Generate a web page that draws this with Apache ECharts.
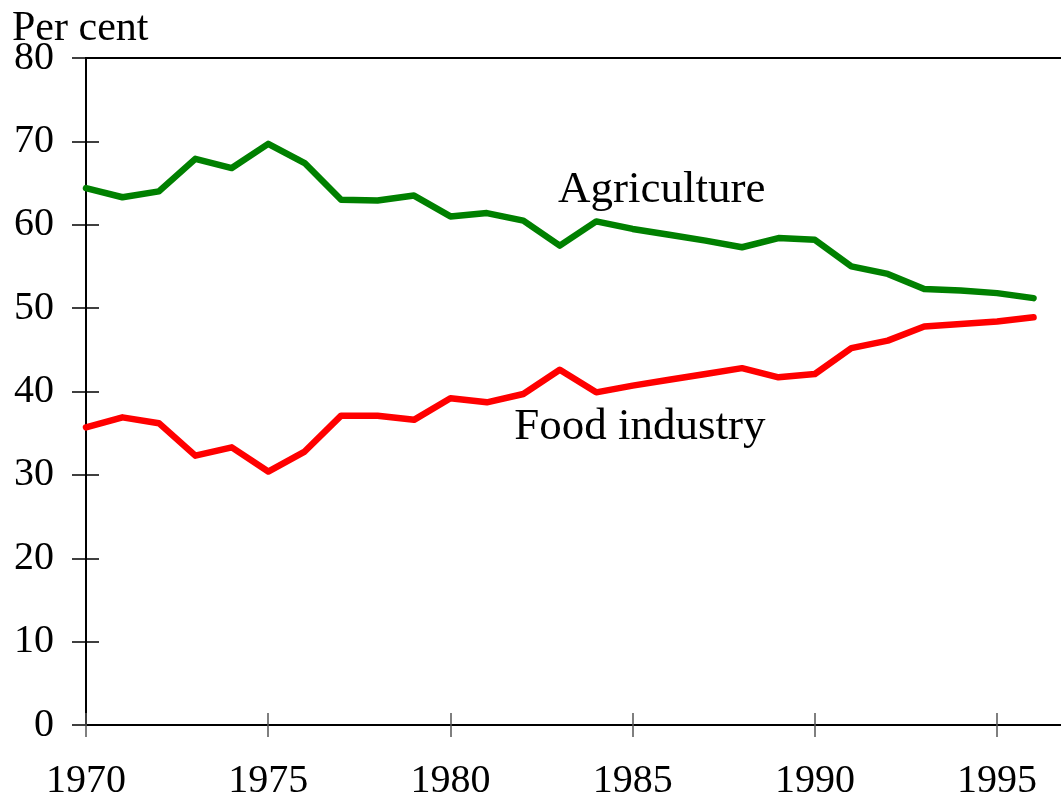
<!DOCTYPE html>
<html>
<head>
<meta charset="utf-8">
<script src="https://cdn.jsdelivr.net/npm/echarts@6/dist/echarts.min.js"></script>
<style>
html,body{margin:0;padding:0;background:#fff;}
#chart{width:1061px;height:799px;}
</style>
</head>
<body>
<div id="chart"></div>
<script>
const years = [1970,1971,1972,1973,1974,1975,1976,1977,1978,1979,1980,1981,1982,1983,1984,1985,1986,1987,1988,1989,1990,1991,1992,1993,1994,1995,1996];
const agriculture = [64.4,63.3,64.0,67.9,66.8,69.7,67.4,63.0,62.9,63.5,61.0,61.4,60.5,57.5,60.4,59.5,58.8,58.1,57.3,58.4,58.2,55.0,54.1,52.3,52.1,51.8,51.2];
const foodIndustry = [35.7,36.9,36.2,32.3,33.3,30.4,32.8,37.1,37.1,36.6,39.2,38.7,39.7,42.6,39.9,40.7,41.4,42.1,42.8,41.7,42.1,45.2,46.1,47.8,48.1,48.4,48.9];
const seriesNames = ['Agriculture','Food industry'];
const yTicks = [0,10,20,30,40,50,60,70,80];
const xTicks = [1970,1975,1980,1985,1990,1995];
const yAxisTitle = 'Per cent';
const agriLabelAt = [1985.8, 64.2];
const foodLabelAt = [1985.2, 35.7];

const FONT = '"Liberation Serif","Times New Roman",serif';
const chart = echarts.init(document.getElementById('chart'), null, {renderer:'canvas'});

const gridBox = {left:86, top:58, width:984, height:667, outerBoundsMode:'none', containLabel:false};
const xBase = {type:'value', min:1970, max:1997, interval:5, position:'bottom'};
const yBase = {type:'value', min:0, max:80, interval:10, position:'left'};

chart.setOption({
  backgroundColor:'#ffffff',
  animation:false,
  grid:[
    Object.assign({show:true, borderColor:'#000', borderWidth:2, backgroundColor:'transparent'}, gridBox)
  ],
  graphic:[{
    type:'text', left:12, top:8,
    style:{text:yAxisTitle, font:'42px ' + FONT, fill:'#000'}
  }],
  xAxis:[
    Object.assign({}, xBase, {
      gridIndex:0,
      axisLine:{show:true, onZero:false, lineStyle:{color:'#000', width:2}},
      axisTick:{show:false},
      axisLabel:{show:true, margin:36, color:'#000', fontSize:40, fontFamily:FONT, showMaxLabel:false,
        formatter:function(v){ return xTicks.indexOf(v) >= 0 ? String(v) : ''; }},
      splitLine:{show:false}
    }),
    Object.assign({}, xBase, {
      gridIndex:0, offset:12,
      axisLine:{show:false, onZero:false},
      axisTick:{show:true, inside:true, length:24, lineStyle:{color:'#555', width:1.5}},
      axisLabel:{show:false},
      splitLine:{show:false}
    })
  ],
  yAxis:[
    Object.assign({}, yBase, {
      gridIndex:0,
      axisLine:{show:true, onZero:false, lineStyle:{color:'#000', width:2}},
      axisTick:{show:false},
      axisLabel:{show:true, margin:32, color:'#000', fontSize:40, fontFamily:FONT,
        formatter:function(v){ return yTicks.indexOf(v) >= 0 ? String(v) : ''; }},
      splitLine:{show:false}
    }),
    Object.assign({}, yBase, {
      gridIndex:0, offset:14,
      axisLine:{show:false, onZero:false},
      axisTick:{show:true, inside:true, length:27, lineStyle:{color:'#000', width:1.5}},
      axisLabel:{show:false},
      splitLine:{show:false}
    })
  ],
  series:[
    {
      name:seriesNames[0], type:'line', xAxisIndex:0, yAxisIndex:0,
      data:years.map((y,i)=>[y, agriculture[i]]),
      symbol:'none', clip:false,
      lineStyle:{color:'#008000', width:6.5, cap:'round', join:'round'},
      markPoint:{
        symbol:'circle', symbolSize:0, silent:true,
        label:{show:true, formatter:seriesNames[0], color:'#000', fontSize:45, fontFamily:FONT, position:'inside'},
        data:[{coord:agriLabelAt}]
      }
    },
    {
      name:seriesNames[1], type:'line', xAxisIndex:0, yAxisIndex:0,
      data:years.map((y,i)=>[y, foodIndustry[i]]),
      symbol:'none', clip:false,
      lineStyle:{color:'#ff0000', width:6.5, cap:'round', join:'round'},
      markPoint:{
        symbol:'circle', symbolSize:0, silent:true,
        label:{show:true, formatter:seriesNames[1], color:'#000', fontSize:45, fontFamily:FONT, position:'inside'},
        data:[{coord:foodLabelAt}]
      }
    },
    {
      type:'line', xAxisIndex:1, yAxisIndex:1, data:[[1970,0]], symbol:'none', silent:true
    }
  ]
});
</script>
</body>
</html>
